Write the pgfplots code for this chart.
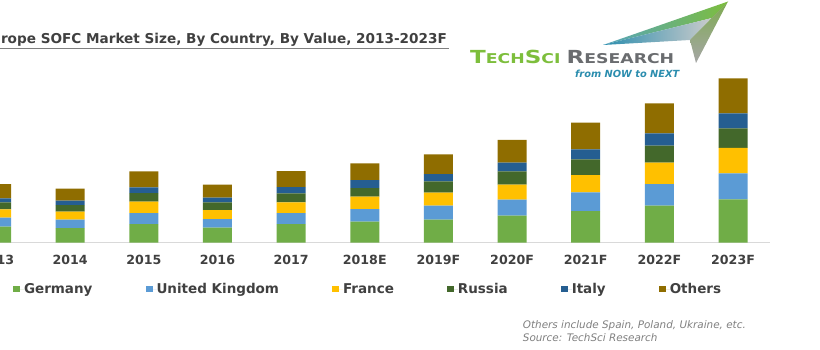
\documentclass[border=0pt]{standalone}
\usepackage{pgfplots}
\pgfplotsset{compat=1.18}
\usepackage{fontspec}
\setmainfont{DejaVu Sans}
\newfontfamily\logofont{DejaVu Sans}[FakeStretch=1.28]
\definecolor{cGer}{HTML}{70AD47}
\definecolor{cUK}{HTML}{5B9BD5}
\definecolor{cFra}{HTML}{FFC000}
\definecolor{cRus}{HTML}{43682B}
\definecolor{cIta}{HTML}{255E91}
\definecolor{cOth}{HTML}{8F6D00}
\definecolor{txtgray}{HTML}{404040}
\definecolor{axgray}{HTML}{D9D9D9}
\definecolor{notegray}{HTML}{7F7F7F}
\definecolor{logogreen}{HTML}{7DBE3C}
\definecolor{logogray}{HTML}{6A6C6F}
\definecolor{logoteal}{HTML}{2B8DAE}
\begin{document}
\begin{tikzpicture}[x=1pt,y=1pt]
\useasboundingbox (0,0) rectangle (820,-350);
\clip (0,0) rectangle (820,-350);
% title
\node[anchor=base east, inner sep=0pt, text=txtgray, font=\fontsize{13.6}{15}\selectfont\bfseries] at (447,-44) {Europe SOFC Market Size, By Country, By Value, 2013-2023F};
\draw[notegray, line width=0.9pt] (0,-48.5) -- (449,-48.5);
% logo shapes
\shade[left color=logoteal!80, right color=logogreen] (603,-45) -- (728,-1.5) -- (712,-18) -- cycle;
\shade[left color=logoteal, right color=gray!40] (603,-45) -- (712,-18) -- (690,-40) -- cycle;
\shade[top color=logogreen!70!gray, bottom color=gray!70] (690,-40) -- (728,-1.5) -- (696,-63) -- cycle;
\node[anchor=base west, inner sep=0pt, font=\logofont\bfseries] at (470,-64) {\color{logogreen}\fontsize{18}{18}\selectfont T\fontsize{13.5}{13.5}\selectfont ECH\fontsize{18}{18}\selectfont S\fontsize{13.5}{13.5}\selectfont CI\ \color{logogray}\fontsize{18}{18}\selectfont R\fontsize{13.5}{13.5}\selectfont ESEARCH};
\node[anchor=base west, inner sep=0pt, text=logoteal, font=\fontsize{9.8}{12}\selectfont\bfseries\itshape] at (575,-78) {from NOW to NEXT};
% footnotes
\node[anchor=base west, inner sep=0pt, text=notegray, font=\fontsize{10.4}{12}\selectfont\itshape] at (522.7,-328) {Others include Spain, Poland, Ukraine, etc.};
\node[anchor=base west, inner sep=0pt, text=notegray, font=\fontsize{10.4}{12}\selectfont\itshape] at (522.7,-341) {Source: TechSci Research};
\begin{axis}[
  at={(-40.3pt,-242.7pt)}, anchor=south west,
  x=73.65pt, y=1pt,
  xmin=-0.5, xmax=10.5, ymin=0, ymax=170,
  ybar stacked, bar width=29pt,
  axis x line*=bottom, axis y line=none,
  x axis line style={draw=axgray, line width=0.9pt},
  xtick={0,...,10},
  xticklabels={2013,2014,2015,2016,2017,2018E,2019F,2020F,2021F,2022F,2023F},
  major tick length=0pt,
  xticklabel style={anchor=base, yshift=-21.3pt, text=txtgray, font=\fontsize{12.6}{14}\selectfont\bfseries},
  ytick=\empty,
  legend columns=6,
  legend image code/.code={\fill[#1,draw=none] (0pt,-2.8pt) rectangle (6.7pt,3.9pt); \path (0pt,0pt) -- (10.7pt,0pt);},
  legend style={at={(0.0662,-0.2753)}, anchor=west, draw=none, fill=none, inner sep=0pt, outer sep=0pt,
    nodes={inner sep=0pt, text=txtgray, font=\fontsize{13.5}{15}\selectfont\bfseries},
    /tikz/every even column/.append style={column sep=53.3pt}},
  every axis plot/.append style={draw=none},
]
\addplot[fill=cGer] coordinates {(0,16) (1,14.7) (2,18.7) (3,15) (4,18.7) (5,21) (6,23) (7,27) (8,31.7) (9,37) (10,43.4)};
\addplot[fill=cUK] coordinates {(0,9) (1,8.3) (2,11) (3,8.7) (4,11) (5,12.7) (6,14) (7,16) (8,18.7) (9,21.7) (10,26)};
\addplot[fill=cFra] coordinates {(0,8.4) (1,8) (2,11.3) (3,9) (4,10.7) (5,12.3) (6,13) (7,15) (8,17.3) (9,21.3) (10,25.3)};
\addplot[fill=cRus] coordinates {(0,7) (1,6.7) (2,8.7) (3,7.7) (4,9) (5,8.7) (6,11.4) (7,13.4) (8,15.7) (9,17) (10,19.7)};
\addplot[fill=cIta] coordinates {(0,4) (1,4.3) (2,5.7) (3,4.6) (4,6.3) (5,8) (6,7.3) (7,8.6) (8,10) (9,12.4) (10,15)};
\addplot[fill=cOth] coordinates {(0,14.3) (1,12) (2,16) (3,13) (4,16) (5,16.7) (6,19.7) (7,22.7) (8,26.6) (9,30) (10,35)};
\legend{Germany,United Kingdom,France,Russia,Italy,Others}
\end{axis}
\end{tikzpicture}
\end{document}
